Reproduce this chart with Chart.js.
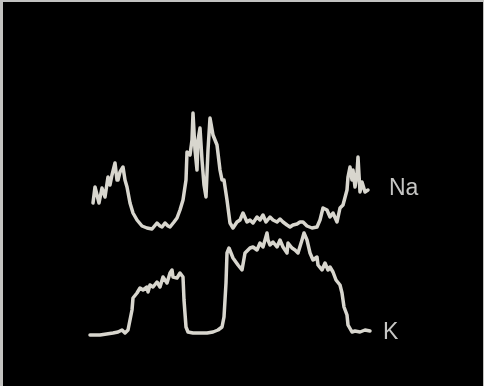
<!DOCTYPE html>
<html>
<head>
<meta charset="utf-8">
<script src="https://cdn.jsdelivr.net/npm/chart.js@4"></script>
<style>
    html, body { margin: 0; padding: 0; background: #c2c2c0; width: 484px; height: 386px; overflow: hidden; }
    #trace { position: absolute; left: 3px; top: 2px; background: #000; }
</style>
</head>
<body>
<canvas id="trace" width="480" height="384"></canvas>
<script>
// scan position along the line
var naPos = [93, 95, 97, 99, 102, 105, 108, 110, 112, 115, 117, 118, 120, 123, 125, 127, 130, 133, 137, 142,
    147, 152, 157, 160, 162, 165, 168, 170, 174, 177, 180, 183, 186, 187, 190, 192, 193, 195, 197, 198,
    200, 202, 204, 206, 208, 210, 213, 217, 220, 222, 224, 227, 230, 233, 237, 240, 243, 247, 250, 253,
    257, 260, 263, 266, 270, 273, 277, 280, 283, 287, 290, 293, 297, 300, 303, 307, 312, 317, 320, 323,
    327, 330, 333, 337, 340, 343, 347, 348, 350, 352, 353, 355, 357, 358, 360, 362, 365, 368];
// Na signal (counts)
var naCounts = [183, 199, 191, 183, 198, 189, 209, 201, 211, 223, 206, 206, 214, 219, 206, 199, 183, 173, 166, 160,
    158, 157, 163, 160, 159, 163, 160, 159, 164, 168, 176, 186, 206, 234, 231, 246, 273, 236, 216, 246,
    258, 226, 201, 189, 236, 268, 251, 241, 216, 206, 206, 186, 163, 158, 164, 166, 173, 164, 166, 163,
    169, 166, 171, 164, 169, 166, 164, 167, 164, 161, 159, 161, 162, 164, 164, 160, 158, 159, 166, 178,
    176, 169, 173, 164, 178, 181, 196, 209, 219, 206, 216, 199, 213, 229, 194, 204, 194, 196];

var kPos = [90, 100, 113, 118, 122, 125, 128, 132, 133, 137, 140, 143, 147, 148, 150, 153, 157, 160, 163, 167,
    170, 172, 173, 177, 180, 183, 184, 186, 188, 193, 200, 207, 213, 218, 222, 224, 226, 227, 229, 233,
    238, 242, 245, 248, 250, 253, 257, 260, 263, 267, 268, 270, 273, 277, 280, 283, 287, 288, 292, 295,
    298, 302, 304, 307, 310, 313, 317, 318, 322, 325, 328, 330, 333, 336, 340, 342, 344, 347, 348, 352,
    355, 360, 365, 370];
// K signal (counts)
var kCounts = [51, 51, 53, 54, 56, 53, 56, 76, 88, 93, 98, 96, 99, 94, 101, 99, 104, 99, 109, 103,
    113, 116, 109, 108, 113, 109, 86, 59, 54, 53, 53, 53, 54, 56, 59, 69, 103, 133, 138, 128,
    121, 116, 133, 136, 138, 139, 136, 143, 139, 153, 146, 141, 144, 139, 146, 139, 133, 143, 138, 136,
    133, 146, 153, 146, 133, 126, 129, 121, 116, 123, 116, 119, 114, 106, 101, 93, 79, 71, 61, 54,
    55, 54, 56, 55];

var seriesNames = ['Na', 'K'];

function toPoints(xs, ys) {
    var pts = [];
    for (var i = 0; i < xs.length; i++) {
        pts.push({ x: xs[i], y: ys[i] });
    }
    return pts;
}

// writes the element name just after the end of each trace
var endLabels = {
    id: 'endLabels',
    afterDatasetsDraw: function (chart, args, opts) {
        var ctx = chart.ctx;
        ctx.save();
        ctx.font = opts.font;
        ctx.fillStyle = opts.color;
        ctx.textBaseline = 'middle';
        chart.data.datasets.forEach(function (ds, i) {
            var last = ds.data[ds.data.length - 1];
            var px = chart.scales.x.getPixelForValue(last.x) + opts.offsets[i][0];
            var py = chart.scales.y.getPixelForValue(last.y) + opts.offsets[i][1];
            ctx.fillText(ds.label, px, py);
        });
        ctx.restore();
    }
};

var lineColor = '#d8d6ce';

var ctx = document.getElementById('trace');
var traceChart = new Chart(ctx, {
    type: 'scatter',
    data: {
        datasets: [{
            label: seriesNames[0],
            data: toPoints(naPos, naCounts),
            showLine: true,
            borderColor: lineColor,
            borderWidth: 3.5,
            borderJoinStyle: 'round',
            borderCapStyle: 'round',
            pointRadius: 0,
            tension: 0
        }, {
            label: seriesNames[1],
            data: toPoints(kPos, kCounts),
            showLine: true,
            borderColor: lineColor,
            borderWidth: 3.5,
            borderJoinStyle: 'round',
            borderCapStyle: 'round',
            pointRadius: 0,
            tension: 0
        }]
    },
    options: {
        responsive: false,
        animation: false,
        layout: { padding: 0 },
        plugins: {
            legend: { display: false },
            tooltip: { enabled: false },
            endLabels: {
                font: '23px "Liberation Sans", Arial, sans-serif',
                color: '#c6c6c4',
                offsets: [[21, -1], [13, 2]]
            }
        },
        scales: {
            x: { type: 'linear', min: 3, max: 483, display: false },
            y: { min: 0, max: 384, display: false }
        }
    },
    plugins: [endLabels]
});
</script>
</body>
</html>
